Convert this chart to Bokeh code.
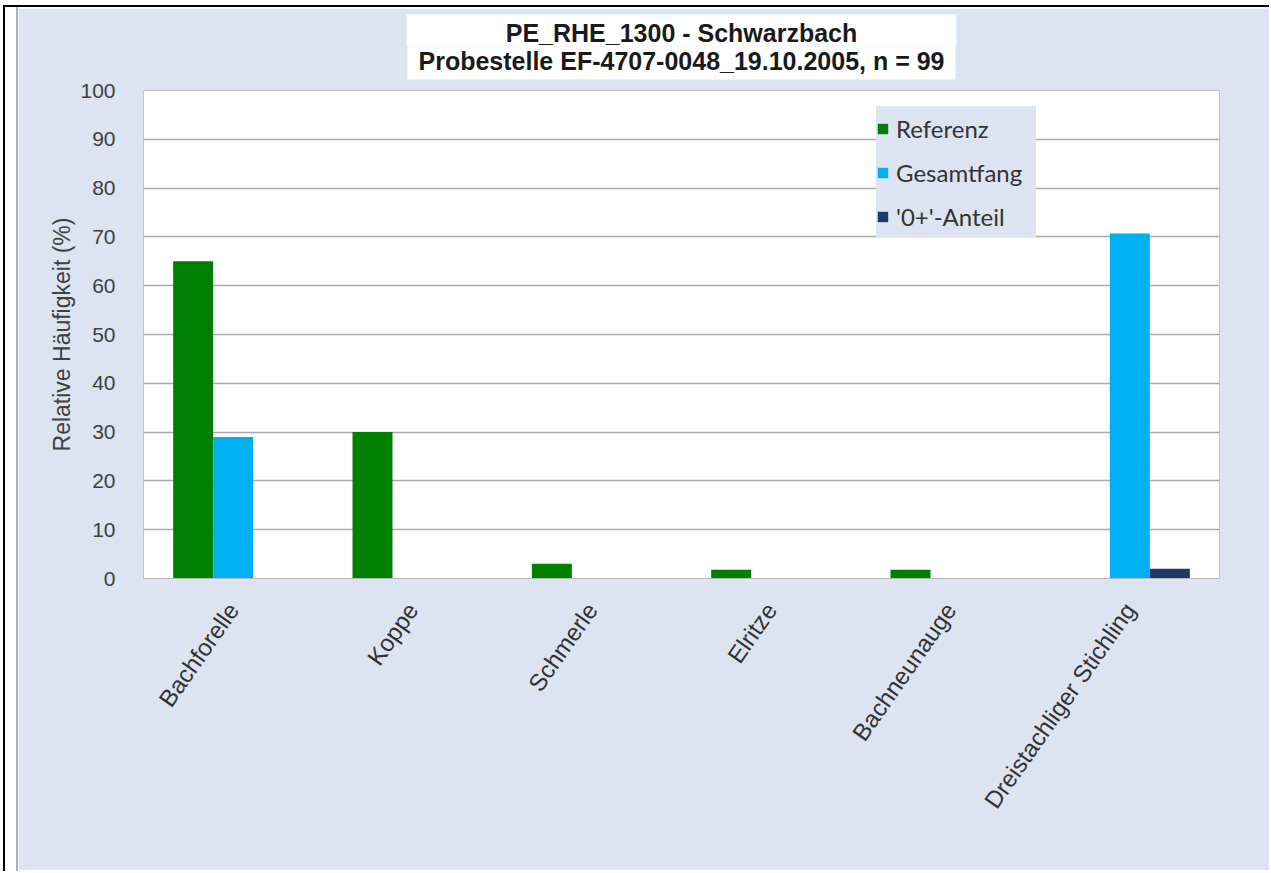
import math
from bokeh.plotting import figure
from bokeh.models import (Range1d, FactorRange, Legend, LegendItem, Title,
                          ColumnDataSource, FixedTicker, Div)
from bokeh.layouts import row, column
from bokeh.transform import dodge
from bokeh.embed import file_html
from bokeh.resources import INLINE

# ---------------- data ----------------
categories = ["Bachforelle", "Koppe", "Schmerle", "Elritze", "Bachneunauge",
              "Dreistachliger Stichling"]
referenz = [65, 30, 3, 1.8, 1.8, 0]
gesamtfang = [29, 0, 0, 0, 0, 70.7]
anteil_0plus = [0, 0, 0, 0, 0, 2]
series_names = ["Referenz", "Gesamtfang", "'0+'-Anteil"]
y_ticks = [0, 10, 20, 30, 40, 50, 60, 70, 80, 90, 100]
title_lines = ["PE_RHE_1300 - Schwarzbach",
               "Probestelle EF-4707-0048_19.10.2005, n = 99"]
y_label = "Relative Häufigkeit (%)"

# ---------------- style ----------------
AREA_BG = "#dce3f1"
GREEN = "#008000"
LBLUE = "#00b0f0"
NAVY = "#1f3864"
FONT = "Liberation Sans"

src = ColumnDataSource(dict(cat=categories, ref=referenz, ges=gesamtfang,
                            nul=anteil_0plus))

p = figure(x_range=FactorRange(*categories), y_range=Range1d(0, 100),
           width=1251, height=862, output_backend="svg", toolbar_location=None,
           min_border_left=125, min_border_right=50, min_border_top=82,
           min_border_bottom=292, margin=(1, 0, 0, 0))
p.background_fill_color = "white"
p.border_fill_color = AREA_BG
p.outline_line_color = "#c4c4c4"

w = 0.223
r1 = p.vbar(x=dodge("cat", -w, range=p.x_range), top="ref", width=w,
            source=src, fill_color=GREEN, line_color=None)
r2 = p.vbar(x=dodge("cat", 0, range=p.x_range), top="ges", width=w,
            source=src, fill_color=LBLUE, line_color=None)
r3 = p.vbar(x=dodge("cat", w, range=p.x_range), top="nul", width=w,
            source=src, fill_color=NAVY, line_color=None)

legend = Legend(items=[LegendItem(label=series_names[0], renderers=[r1]),
                       LegendItem(label=series_names[1], renderers=[r2]),
                       LegendItem(label=series_names[2], renderers=[r3])],
                location=(733, 340), margin=0, padding=8, spacing=0,
                label_height=44, label_width=140, glyph_height=13,
                glyph_width=13, label_standoff=7,
                background_fill_color=AREA_BG, background_fill_alpha=1,
                border_line_color=None, label_text_font="Lato",
                label_text_font_size="24px", label_text_color="#333333")
p.add_layout(legend)

# axes
p.yaxis.ticker = FixedTicker(ticks=y_ticks)
p.yaxis.axis_line_color = None
p.yaxis.major_tick_line_color = None
p.yaxis.minor_tick_line_color = None
p.yaxis.major_label_text_font = FONT
p.yaxis.major_label_text_font_size = "21px"
p.yaxis.major_label_text_color = "#404040"
p.yaxis.major_label_standoff = 22
p.yaxis.axis_label = y_label
p.yaxis.axis_label_text_font = FONT
p.yaxis.axis_label_text_font_style = "normal"
p.yaxis.axis_label_text_font_size = "23px"
p.yaxis.axis_label_text_color = "#404040"
p.yaxis.axis_label_standoff = 2

p.xaxis.axis_line_color = "#b8b8b8"
p.xaxis.major_tick_line_color = None
p.xaxis.minor_tick_line_color = None
p.xaxis.major_label_orientation = math.radians(55)
p.xaxis.major_label_text_font = FONT
p.xaxis.major_label_text_font_size = "24px"
p.xaxis.major_label_text_color = "#333333"
p.xaxis.major_label_standoff = 21

p.xgrid.grid_line_color = None
p.ygrid.grid_line_color = "#aaaaaa"
p.ygrid.grid_line_width = 1.5

# two-line title in one white box; panels listed from the frame outwards
p.title = None
spacer = Title(text=" ", text_font_size="1px", standoff=6)
t2 = Title(text=title_lines[1], align="center", vertical_align="top",
           text_font=FONT, text_font_style="bold", text_font_size="25px",
           text_color="#1a1a1a", background_fill_color="white",
           border_line_color=None,
           padding=dict(left=11, right=11, top=0, bottom=5), standoff=0)
t1 = Title(text=title_lines[0], align="center", vertical_align="bottom",
           text_font=FONT, text_font_style="bold", text_font_size="25px",
           text_color="#1a1a1a", background_fill_color="white",
           border_line_color=None,
           padding=dict(left=99, right=99, top=4, bottom=0), standoff=0)
p.add_layout(spacer, "above")
p.add_layout(t2, "above")
p.add_layout(t1, "above")

top_line = Div(width=1266, height=2, margin=(5, 0, 0, 3),
               styles={"background-color": "black"})
left_strip = Div(width=15, height=864, margin=(0, 0, 0, 3),
                 styles={"border-left": "2px solid black",
                         "border-right": "2px solid #a9b0bc",
                         "box-sizing": "border-box"})

layout = column(top_line, row(left_strip, p, margin=0, spacing=0),
                margin=0, spacing=0)
open("out.html", "w").write(file_html(layout, INLINE))
